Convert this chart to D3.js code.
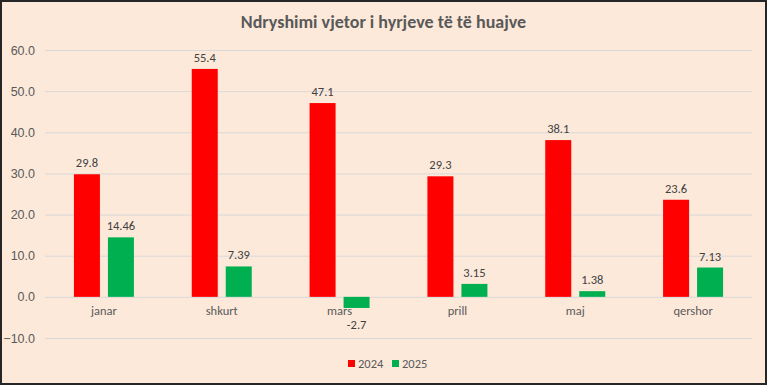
<!DOCTYPE html>
<html>
<head>
<meta charset="utf-8">
<script src="https://cdn.jsdelivr.net/npm/d3@7"></script>
<style>
  body { margin: 0; background: #fff; }
  svg { display: block; font-family: Calibri, Carlito, "Open Sans", sans-serif; }
</style>
</head>
<body>
<div id="chart"></div>
<script>
// values
var months = ["janar", "shkurt", "mars", "prill", "maj", "qershor"];
var series2024 = [29.8, 55.4, 47.1, 29.3, 38.1, 23.6];
var series2025 = [14.46, 7.39, -2.7, 3.15, 1.38, 7.13];
var seriesNames = ["2024", "2025"];
var yTicks = [-10, 0, 10, 20, 30, 40, 50, 60];

var W = 767, H = 385;
var margin = {left: 45, right: 15, top: 50, bottom: 47};
var width = W - margin.left - margin.right;
var height = H - margin.top - margin.bottom;
var colors = ["#ff0000", "#00b050"];

var svg = d3.select("#chart").append("svg")
  .attr("width", W)
  .attr("height", H);

svg.append("rect")
  .attr("x", 1).attr("y", 1)
  .attr("width", W - 2).attr("height", H - 2)
  .attr("fill", "#fce9da")
  .attr("stroke", "#262626")
  .attr("stroke-width", 2);

svg.append("text")
  .attr("x", W / 2).attr("y", 28)
  .attr("text-anchor", "middle")
  .attr("font-size", 18)
  .attr("font-weight", "bold")
  .attr("fill", "#595959")
  .text("Ndryshimi vjetor i hyrjeve të të huajve");

var g = svg.append("g")
  .attr("transform", "translate(" + margin.left + "," + margin.top + ")");

var x = d3.scaleBand().domain(months).range([0, width]);
var y = d3.scaleLinear().domain([-10, 60]).range([height, 0]);

var yAxis = g.append("g")
  .call(d3.axisLeft(y).tickValues(yTicks).tickSize(-width).tickFormat(d3.format(".1f")).tickPadding(10));
yAxis.select(".domain").remove();
yAxis.selectAll("line").attr("stroke", "#d9d9d9");
yAxis.selectAll("text").attr("fill", "#595959").attr("font-size", 12.5);

var barW = 26, gap = 8;
var rows = months.map(function(m, i) { return {m: m, v: [series2024[i], series2025[i]]}; });

var groups = g.selectAll(".grp").data(rows).enter().append("g")
  .attr("transform", d => "translate(" + (x(d.m) + x.bandwidth() / 2 - barW - gap / 2) + ",0)");

groups.selectAll("rect").data(d => d.v).enter().append("rect")
  .attr("x", (d, i) => i * (barW + gap))
  .attr("y", d => y(Math.max(0, d)))
  .attr("width", barW)
  .attr("height", d => Math.abs(y(d) - y(0)))
  .attr("fill", (d, i) => colors[i]);

// negative label sits below the bar, under the category name
groups.selectAll(".lbl").data(d => d.v).enter().append("text")
  .attr("x", (d, i) => i * (barW + gap) + barW / 2)
  .attr("y", d => d >= 0 ? y(d) - 7 : y(d) + 21)
  .attr("text-anchor", "middle")
  .attr("font-size", 12.5)
  .attr("fill", "#404040")
  .text(d => d);

g.selectAll(".cat").data(months).enter().append("text")
  .attr("x", d => x(d) + x.bandwidth() / 2)
  .attr("y", y(0) + 18)
  .attr("text-anchor", "middle")
  .attr("font-size", 12.5)
  .attr("fill", "#595959")
  .text(d => d);

var legend = svg.append("g").attr("transform", "translate(348,364)");
seriesNames.forEach(function(s, i) {
  var lg = legend.append("g").attr("transform", "translate(" + (i * 44) + ",0)");
  lg.append("rect").attr("x", 0).attr("y", -4).attr("width", 7).attr("height", 7).attr("fill", colors[i]);
  lg.append("text").attr("x", 10).attr("y", 4).attr("font-size", 12.5).attr("fill", "#595959").text(s);
});
</script>
</body>
</html>
